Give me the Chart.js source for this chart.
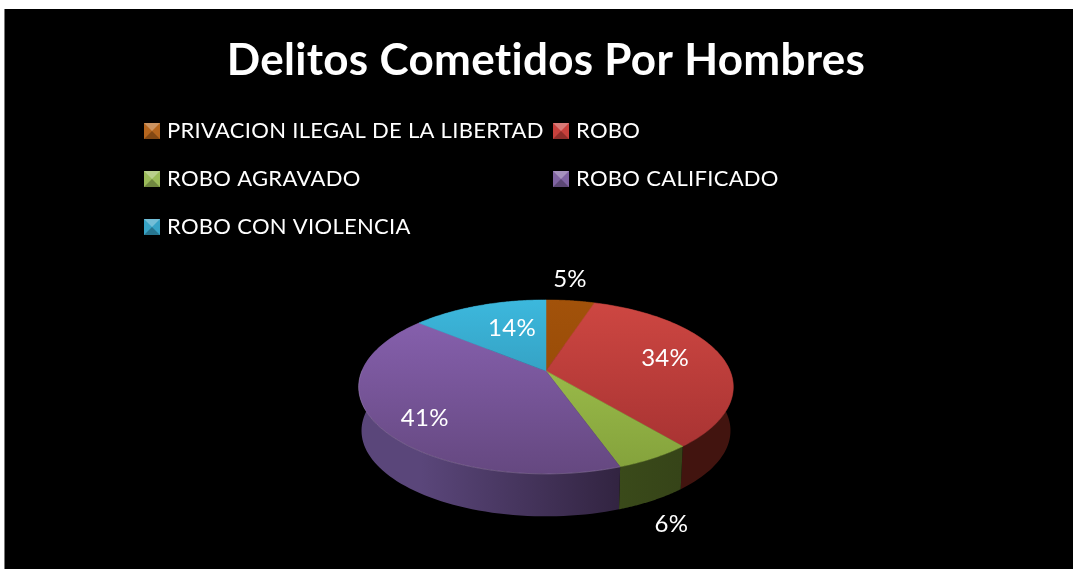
<!DOCTYPE html>
<html><head><meta charset="utf-8">
<style>
html,body{margin:0;padding:0;background:#fff;width:1073px;height:569px;overflow:hidden}
#wrap{position:absolute;left:4px;top:9px;width:1069px;height:560px;background:#000;box-shadow:inset 1px 0 #777}
canvas{position:absolute;left:0;top:0;filter:blur(0.45px)}
</style>
<script src="https://cdn.jsdelivr.net/npm/chart.js@4"></script>
</head><body><div id="wrap"><canvas id="c" width="1069" height="560"></canvas></div>
<script>
const titleText = 'Delitos Cometidos Por Hombres';
const categories = ['PRIVACION ILEGAL DE LA LIBERTAD','ROBO','ROBO AGRAVADO','ROBO CALIFICADO','ROBO CON VIOLENCIA'];
const values = [5, 34, 5.6, 41.4, 14];
const colorsLight = ['#A2520A','#CE4742','#A8CA52','#8A63B3','#3CB8DD'];
const colorsDark  = ['#8E4505','#A23030','#83A13B','#654880','#2C84A2'];
const sideLeft  = ['#5A2C04','#42140F','#3A4A1A','#5A467A','#1C5A6E'];
const sideRight = ['#5A2C04','#42140F','#364418','#322441','#1C5A6E'];
const legendColors = ['#B5651D','#C8403C','#9BBB59','#8064A2','#37A3C6'];
const labelRadii  = [1.38, 0.685, 1.456, 0.783, 0.6];
const labelNudges = [-2.2, -2.7, 9, -5.4, 5.3];
const FONT = 'Lato, "Open Sans", sans-serif';
const persp = 0.184, squash = 0.4565, depth = 44, lowerScale = 0.985;

function project(a, theta, r, lower) {
  const s = a.outerRadius * (lower ? lowerScale : 1);
  const x = Math.sin(theta) * r, y = Math.cos(theta) * r, d = 1 + persp * y;
  return { x: a.x + s * x / d, y: a.y + (lower ? depth : 0) - s * squash * y / d };
}
function thetas(a) {
  const t0 = a.startAngle + Math.PI / 2, t1 = a.endAngle + Math.PI / 2, n = 80, out = [];
  for (let i = 0; i <= n; i++) out.push(t0 + (t1 - t0) * i / n);
  return out;
}
const pie3d = {
  id: 'pie3d',
  beforeDraw(chart) { chart.ctx.letterSpacing = '0.3px'; },
  beforeDatasetsDraw(chart) {
    const ctx = chart.ctx, arcs = chart.getDatasetMeta(0).data;
    const a0 = arcs[0];
    arcs.forEach((a, i) => {
      const ts = thetas(a);
      const g = ctx.createLinearGradient(project(a, ts[ts.length-1], 1, true).x, 0, project(a, ts[0], 1, true).x, 0);
      g.addColorStop(0, sideLeft[i]); g.addColorStop(1, sideRight[i]);
      ctx.beginPath();
      ts.forEach((t, j) => { const p = project(a, t, 1, false); j ? ctx.lineTo(p.x, p.y) : ctx.moveTo(p.x, p.y); });
      ts.slice().reverse().forEach(t => { const p = project(a, t, 1, true); ctx.lineTo(p.x, p.y); });
      ctx.closePath();
      ctx.fillStyle = g; ctx.fill();
    });
    const top = project(a0, 0, 1, false).y, bottom = project(a0, Math.PI, 1, false).y;
    arcs.forEach((a, i) => {
      const g = ctx.createLinearGradient(0, top, 0, bottom);
      g.addColorStop(0, colorsLight[i]); g.addColorStop(1, colorsDark[i]);
      ctx.beginPath();
      ctx.moveTo(a.x, a.y);
      thetas(a).forEach(t => { const p = project(a, t, 1, false); ctx.lineTo(p.x, p.y); });
      ctx.closePath();
      ctx.fillStyle = g; ctx.fill();
      ctx.strokeStyle = g; ctx.lineWidth = 0.5; ctx.stroke();
    });
    // faint rim on the front of the largest slice only
    const big = arcs[3];
    ctx.beginPath();
    thetas(big).slice(0, 60).forEach((t, j) => { const p = project(big, t, 1, false); j ? ctx.lineTo(p.x, p.y) : ctx.moveTo(p.x, p.y); });
    ctx.strokeStyle = 'rgba(255,255,255,0.14)'; ctx.lineWidth = 1; ctx.stroke();
    const total = values.reduce((s, v) => s + v, 0);
    ctx.font = '24px ' + FONT; ctx.fillStyle = '#fff';
    ctx.textAlign = 'center'; ctx.textBaseline = 'middle';
    arcs.forEach((a, i) => {
      const mid = (a.startAngle + a.endAngle) / 2 + Math.PI / 2 + labelNudges[i] * Math.PI / 180;
      const p = project(a, mid, labelRadii[i], false);
      ctx.fillText(Math.round(values[i] / total * 100) + '%', p.x, p.y);
    });
    return false;
  },
  afterDraw(chart) {
    const ctx = chart.ctx;
    const cols = [140, 549], rows = [122, 170, 218], box = 16;
    ctx.font = '22px ' + FONT; ctx.textAlign = 'left'; ctx.textBaseline = 'middle';
    chart.data.labels.forEach((lab, i) => {
      const x = cols[i % 2], y = rows[Math.floor(i / 2)], c = legendColors[i];
      const b = { x, y: y - box / 2 };
      const cx = b.x + box / 2, cy = b.y + box / 2;
      const tri = (ax, ay, bx, by, col) => {
        ctx.beginPath(); ctx.moveTo(cx, cy); ctx.lineTo(ax, ay); ctx.lineTo(bx, by); ctx.closePath();
        ctx.fillStyle = col; ctx.fill();
      };
      ctx.fillStyle = c; ctx.fillRect(b.x, b.y, box, box);
      tri(b.x, b.y, b.x + box, b.y, 'rgba(255,255,255,0.3)');
      tri(b.x, b.y + box, b.x + box, b.y + box, 'rgba(0,0,0,0.28)');
      ctx.fillStyle = '#fff';
      ctx.fillText(lab, x + 23, y);
    });
  }
};
new Chart(document.getElementById('c'), {
  type: 'pie',
  data: { labels: categories, datasets: [{ data: values, backgroundColor: legendColors, borderWidth: 0 }] },
  options: {
    responsive: false, animation: false, events: [],
    layout: { padding: { left: 15, right: 0, top: 0, bottom: 14 } },
    plugins: {
      legend: { display: false }, tooltip: { enabled: false },
      title: { display: true, text: titleText, color: '#fff',
        font: { family: FONT, size: 44, weight: 'bold', lineHeight: 1.2 },
        padding: { top: 25, bottom: 100 } }
    }
  },
  plugins: [pie3d]
});
</script></body></html>
